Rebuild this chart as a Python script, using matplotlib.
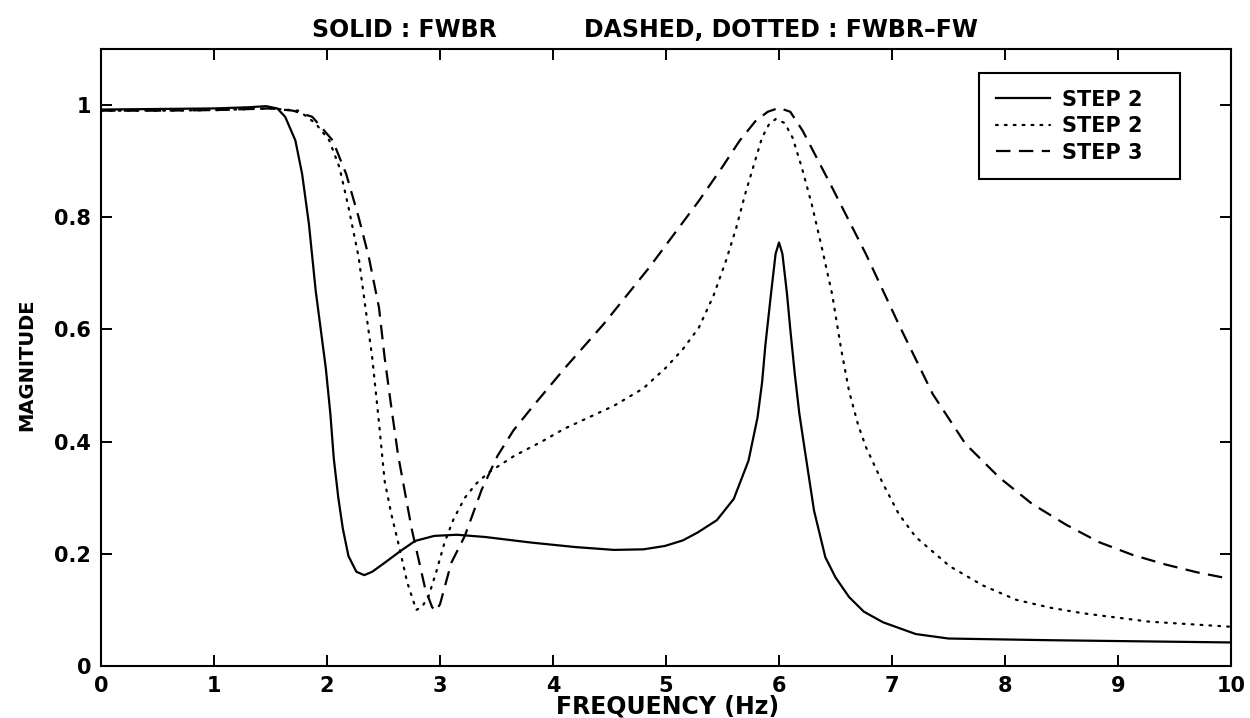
import matplotlib
matplotlib.use("Agg")
import matplotlib.pyplot as plt
from matplotlib.lines import Line2D

plt.rcParams['font.family'] = ['DejaVu Sans']
plt.rcParams['font.weight'] = 'bold'

# ---- data ----
freq_solid = [0.0, 0.5, 1.0, 1.3, 1.46, 1.56, 1.63, 1.72, 1.78, 1.84,
              1.90, 1.99, 2.03, 2.06, 2.10, 2.14, 2.19, 2.26, 2.33, 2.40,
              2.51, 2.65, 2.78, 2.95, 3.15, 3.40, 3.81, 4.20, 4.54, 4.80,
              4.99, 5.15, 5.28, 5.45, 5.60, 5.73, 5.81, 5.85, 5.88, 5.93,
              5.97, 6.00, 6.03, 6.07, 6.10, 6.14, 6.18, 6.22, 6.31, 6.41,
              6.50, 6.62, 6.75, 6.92, 7.21, 7.50, 8.40, 10.0]
mag_solid = [0.992, 0.993, 0.994, 0.996, 0.998, 0.994, 0.979, 0.937, 0.877, 0.788,
             0.669, 0.53, 0.449, 0.37, 0.30, 0.245, 0.196, 0.168, 0.162, 0.168,
             0.184, 0.205, 0.223, 0.232, 0.234, 0.230, 0.220, 0.212, 0.207, 0.208,
             0.214, 0.224, 0.238, 0.260, 0.298, 0.366, 0.443, 0.505, 0.573, 0.665,
             0.735, 0.755, 0.735, 0.665, 0.60, 0.52, 0.45, 0.396, 0.277, 0.194,
             0.158, 0.123, 0.097, 0.078, 0.057, 0.049, 0.046, 0.042]

freq_dot = [0.0, 0.5, 1.0, 1.5, 1.75, 1.90, 2.02, 2.11, 2.19, 2.28,
            2.34, 2.40, 2.46, 2.51, 2.57, 2.63, 2.71, 2.79, 2.84, 2.90,
            2.97, 3.04, 3.12, 3.22, 3.32, 3.43, 3.66, 3.90, 4.10, 4.54,
            4.80, 5.00, 5.15, 5.29, 5.42, 5.53, 5.62, 5.70, 5.78, 5.85,
            5.91, 5.97, 6.05, 6.12, 6.20, 6.29, 6.38, 6.47, 6.55, 6.62,
            6.70, 6.77, 6.92, 7.06, 7.21, 7.51, 7.80, 8.10, 8.40, 8.69,
            9.28, 10.0]
mag_dot = [0.99, 0.99, 0.991, 0.994, 0.99, 0.967, 0.937, 0.889, 0.818, 0.729,
           0.639, 0.55, 0.434, 0.33, 0.27, 0.22, 0.149, 0.10, 0.105, 0.125,
           0.17, 0.22, 0.262, 0.30, 0.325, 0.345, 0.375, 0.40, 0.423, 0.464,
           0.495, 0.532, 0.565, 0.603, 0.66, 0.722, 0.78, 0.841, 0.895, 0.942,
           0.965, 0.975, 0.968, 0.942, 0.89, 0.823, 0.745, 0.663, 0.565, 0.49,
           0.43, 0.39, 0.325, 0.271, 0.23, 0.178, 0.144, 0.118, 0.104, 0.094,
           0.079, 0.07]

freq_dash = [0.0, 0.5, 1.0, 1.5, 1.70, 1.87, 2.05, 2.17, 2.28, 2.37,
             2.46, 2.51, 2.57, 2.63, 2.75, 2.87, 2.93, 2.96, 3.00, 3.10,
             3.22, 3.37, 3.51, 3.65, 3.81, 4.10, 4.45, 4.85, 5.29, 5.50,
             5.65, 5.79, 5.90, 6.00, 6.10, 6.21, 6.47, 6.77, 7.06, 7.36,
             7.65, 7.95, 8.24, 8.54, 8.83, 9.13, 9.42, 9.70, 10.0]
mag_dash = [0.99, 0.99, 0.991, 0.994, 0.99, 0.979, 0.937, 0.877, 0.80, 0.729,
            0.639, 0.55, 0.46, 0.375, 0.244, 0.137, 0.105, 0.098, 0.11, 0.184,
            0.232, 0.315, 0.375, 0.42, 0.46, 0.53, 0.61, 0.71, 0.829, 0.89,
            0.936, 0.971, 0.988, 0.995, 0.988, 0.954, 0.853, 0.734, 0.609, 0.485,
            0.396, 0.336, 0.289, 0.252, 0.221, 0.198, 0.181, 0.167, 0.155]

legend_labels = ["STEP 2", "STEP 2", "STEP 3"]
x_ticks = [0, 1, 2, 3, 4, 5, 6, 7, 8, 9, 10]
y_ticks = [0, 0.2, 0.4, 0.6, 0.8, 1.0]
y_tick_labels = ["0", "0.2", "0.4", "0.6", "0.8", "1"]
title_left = "SOLID : FWBR"
title_right = "DASHED, DOTTED : FWBR\u2013FW"

# ---- figure ----
fig = plt.figure(figsize=(12.5, 7.18), dpi=100)
ax = fig.add_axes([0.0808, 0.0724, 0.904, 0.8594])

lw = 1.6
dot_style = (0, (0.8, 3.2))
dash_style = (0, (6.5, 3.8))
ax.plot(freq_solid, mag_solid, color='black', lw=lw, ls='-')
ax.plot(freq_dot, mag_dot, color='black', lw=lw, ls=dot_style,
        dash_capstyle='round')
ax.plot(freq_dash, mag_dash, color='black', lw=lw, ls=dash_style)

ax.set_xlim(0, 10)
ax.set_ylim(0, 1.1)
ax.set_xticks(x_ticks)
ax.set_xticklabels([str(t) for t in x_ticks])
ax.set_yticks(y_ticks)
ax.set_yticklabels(y_tick_labels)

ax.tick_params(direction='in', length=8, width=1.4, top=True, right=True,
               labelsize=15, pad=7)
ax.tick_params(axis='x', pad=7)
for s in ax.spines.values():
    s.set_linewidth(1.5)

ax.set_xlabel("FREQUENCY (Hz)", fontsize=17, fontweight='bold')
ax.xaxis.label.set_va('center')
ax.xaxis.set_label_coords(0.5015, -0.066)
ax.set_ylabel("MAGNITUDE", fontsize=14, fontweight='bold')
ax.yaxis.label.set_va('center')
ax.yaxis.set_label_coords(-0.0655, 0.489)

fig.text(312 / 1250, 1 - 30 / 718, title_left, fontsize=17,
         fontweight='bold', ha='left', va='center')
fig.text(584 / 1250, 1 - 30 / 718, title_right, fontsize=17,
         fontweight='bold', ha='left', va='center')

handles = [Line2D([], [], color='black', lw=lw, ls='-'),
           Line2D([], [], color='black', lw=lw, ls=dot_style,
                  dash_capstyle='round'),
           Line2D([], [], color='black', lw=lw, ls=dash_style)]
leg = ax.legend(handles, legend_labels, loc='upper left',
                bbox_to_anchor=(0.7832, 0.7451, 0.1608, 0.1532),
                bbox_transform=fig.transFigure, mode='expand',
                borderaxespad=0, handlelength=2.6,
                handletextpad=0.6, labelspacing=0.31, borderpad=0.8,
                fancybox=False, framealpha=1, edgecolor='black',
                prop={'size': 15, 'weight': 'bold'})
leg.get_frame().set_linewidth(1.5)

fig.savefig("out.png", dpi=100)
